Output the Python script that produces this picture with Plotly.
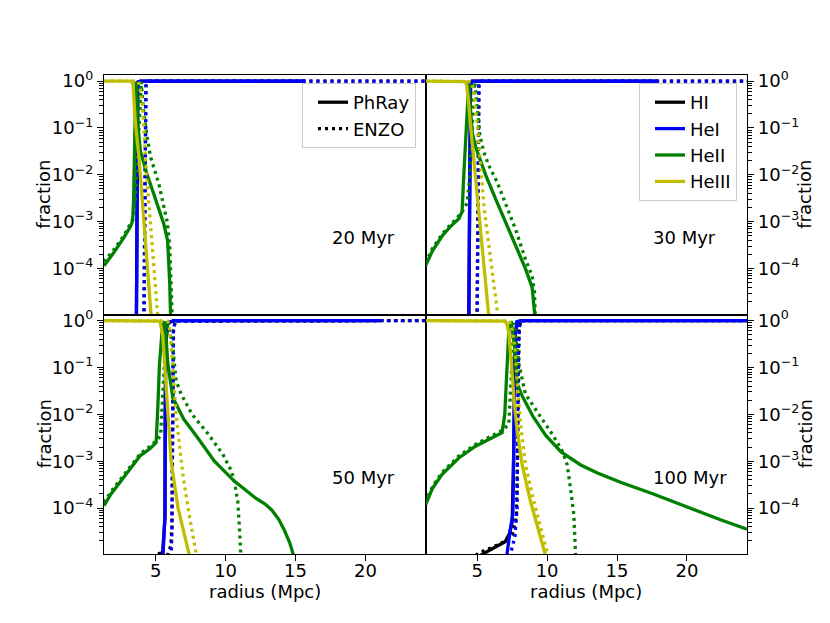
import plotly.graph_objects as go

# ---------------- data: radius (Mpc) and fraction ----------------
# ---- 20 Myr ----
r20_HI_phray = [3.58, 3.62, 3.64, 3.66, 3.72, 3.9, 15.7]
f20_HI_phray = [1e-7, 1e-5, 1e-3, 0.1, 0.95, 1.0, 1.0]
r20_HI_enzo = [4.1, 4.15, 4.18, 4.22, 4.3, 4.45, 24.3]
f20_HI_enzo = [1e-7, 1e-5, 1e-3, 0.1, 0.8, 1.0, 1.0]
r20_HeI_phray = [3.58, 3.62, 3.64, 3.66, 3.72, 3.9, 15.7]
f20_HeI_phray = [1e-7, 1e-5, 1e-3, 0.1, 0.95, 1.0, 1.0]
r20_HeI_enzo = [4.1, 4.15, 4.18, 4.22, 4.3, 4.45, 24.3]
f20_HeI_enzo = [1e-7, 1e-5, 1e-3, 0.1, 0.8, 1.0, 1.0]
r20_HeII_phray = [1.3, 2.0, 2.72, 3.2, 3.35, 3.42, 3.5, 3.56, 3.6, 3.67, 3.74, 3.91, 4.15,
                  4.39, 4.86, 5.2, 5.58, 5.85, 5.94, 6.0, 6.06, 6.1]
f20_HeII_phray = [1.15e-4, 2.19e-4, 4.57e-4, 7.94e-4, 1.05e-3, 3.16e-3, 6.31e-2, 0.631, 0.977,
                  0.316, 0.1, 3.16e-2, 1.78e-2, 1.0e-2, 3.89e-3, 2.0e-3, 8.91e-4, 3.98e-4,
                  1.45e-4, 5.01e-5, 1.07e-5, 3.16e-6]
r20_HeII_enzo = [1.3, 2.0, 2.72, 3.2, 3.35, 3.55, 3.75, 3.9, 3.97, 4.03, 4.15, 4.39, 4.63,
                 5.22, 5.5, 5.82, 6.0, 6.06, 6.12, 6.18, 6.22]
f20_HeII_enzo = [1.41e-4, 2.51e-4, 5.01e-4, 8.71e-4, 1.12e-3, 3.16e-3, 6.31e-2, 0.794, 0.977,
                 0.501, 0.204, 6.46e-2, 2.40e-2, 6.46e-3, 2.82e-3, 1.0e-3, 3.16e-4, 1.45e-4,
                 3.16e-5, 1.0e-5, 3.16e-6]
r20_HeIII_phray = [1.3, 3.3, 3.38, 3.45, 3.55, 3.82, 4.2, 4.68, 4.8]
f20_HeIII_phray = [1.0, 1.0, 0.794, 0.398, 0.126, 2.0e-2, 6.31e-4, 1.07e-5, 3.16e-6]
r20_HeIII_enzo = [1.3, 3.75, 3.85, 4.03, 4.15, 4.27, 4.6, 5.15, 5.3]
f20_HeIII_enzo = [1.0, 0.995, 0.794, 0.331, 0.105, 2.04e-2, 1.12e-3, 1.07e-5, 2.51e-6]

# ---- 30 Myr ----
r30_HI_phray = [4.35, 4.4, 4.43, 4.46, 4.52, 4.65, 17.87]
f30_HI_phray = [1e-7, 1e-5, 1e-3, 0.1, 0.8, 1.0, 1.0]
r30_HI_enzo = [4.99, 5.02, 5.05, 5.12, 5.25, 24.3]
f30_HI_enzo = [1.2e-5, 1e-3, 0.1, 0.8, 1.0, 1.0]
r30_HeI_phray = [4.35, 4.4, 4.43, 4.46, 4.52, 4.65, 17.87]
f30_HeI_phray = [1e-7, 1e-5, 1e-3, 0.1, 0.8, 1.0, 1.0]
r30_HeI_enzo = [4.95, 4.99, 5.02, 5.05, 5.12, 5.25, 24.3]
f30_HeI_enzo = [1e-7, 1e-5, 1e-3, 0.1, 0.8, 1.0, 1.0]
r30_HeII_phray = [1.3, 1.8, 2.5, 3.1, 3.7, 3.92, 4.04, 4.16, 4.35, 4.4, 4.5, 4.64, 4.88, 5.6,
                  6.3, 7.0, 7.7, 8.45, 8.93, 9.07, 9.12, 9.16]
f30_HeII_phray = [1.15e-4, 2.40e-4, 5.01e-4, 7.94e-4, 1.17e-3, 1.66e-3, 1.0e-2, 5.01e-2, 0.501,
                  0.977, 0.282, 8.13e-2, 3.98e-2, 1.0e-2, 3.16e-3, 1.0e-3, 3.16e-4, 1.0e-4,
                  3.98e-5, 1.58e-5, 1.0e-5, 3.16e-6]
r30_HeII_enzo = [1.3, 1.8, 2.5, 3.1, 3.7, 3.9, 4.28, 4.45, 4.6, 4.72, 4.82, 4.92, 5.02, 5.19,
                 5.47, 5.83, 6.43, 7.02, 7.74, 8.45, 8.93, 9.1, 9.17, 9.2]
f30_HeII_enzo = [1.32e-4, 2.69e-4, 5.5e-4, 8.71e-4, 1.32e-3, 1.58e-3, 2.51e-3, 7.94e-3,
                 6.31e-2, 0.398, 0.955, 0.501, 0.2, 6.92e-2, 3.09e-2, 1.58e-2, 6.92e-3,
                 2.57e-3, 6.92e-4, 1.58e-4, 6.92e-5, 3.16e-5, 1.05e-5, 3.16e-6]
r30_HeIII_phray = [1.3, 4.15, 4.25, 4.35, 4.52, 4.86, 5.35, 5.83, 5.95]
f30_HeIII_phray = [1.0, 0.977, 0.794, 0.447, 0.115, 1.0e-2, 3.16e-4, 1.05e-5, 3.98e-6]
r30_HeIII_enzo = [1.3, 4.55, 4.75, 5.0, 5.5, 6.0, 6.5, 6.65]
f30_HeIII_enzo = [1.0, 0.977, 0.631, 0.126, 1.86e-3, 1.26e-4, 1.05e-5, 3.98e-6]

# ---- 50 Myr ----
r50_HI_phray = [5.1, 5.25, 5.5, 5.6, 5.66, 5.68, 5.72, 5.85, 6.3, 21.1]
f50_HI_phray = [5.0e-6, 1.07e-5, 1.12e-5, 2.51e-5, 6.31e-5, 1.0e-2, 0.316, 0.891, 1.0, 1.0]
r50_HI_enzo = [5.5, 5.85, 6.08, 6.16, 6.19, 6.22, 6.27, 6.4, 24.3]
f50_HI_enzo = [5.0e-6, 1.05e-5, 1.58e-5, 3.98e-5, 1.0e-3, 0.1, 0.631, 0.977, 1.0]
r50_HeI_phray = [5.45, 5.51, 5.6, 5.66, 5.68, 5.72, 5.85, 6.3, 21.1]
f50_HeI_phray = [3.98e-6, 1.1e-5, 2.51e-5, 6.31e-5, 1.0e-2, 0.316, 0.891, 1.0, 1.0]
r50_HeI_enzo = [6.05, 6.12, 6.16, 6.19, 6.22, 6.27, 6.4, 24.3]
f50_HeI_enzo = [3.16e-6, 1.1e-5, 3.16e-5, 1.0e-3, 0.1, 0.631, 0.977, 1.0]
r50_HeII_phray = [1.3, 1.8, 2.5, 3.2, 3.9, 4.6, 5.03, 5.15, 5.27, 5.44, 5.6, 5.75, 5.87, 6.22,
                  7.0, 8.0, 9.2, 10.6, 11.4, 12.07, 12.8, 13.3, 13.8, 14.21, 14.6, 14.85, 15.0]
f50_HeII_phray = [1.12e-4, 2.0e-4, 3.72e-4, 7.08e-4, 1.32e-3, 1.86e-3, 2.51e-3, 1.41e-2, 0.12,
                  0.525, 0.977, 0.398, 0.12, 2.29e-2, 7.94e-3, 3.16e-3, 1.0e-3, 3.8e-4,
                  2.4e-4, 1.7e-4, 1.23e-4, 9.1e-5, 5.75e-5, 3.31e-5, 1.78e-5, 1.0e-5, 3.98e-6]
r50_HeII_enzo = [1.3, 1.8, 2.5, 3.2, 3.9, 4.6, 5.1, 5.35, 5.5, 5.7, 5.88, 6.0, 6.22, 6.46,
                 6.82, 7.6, 8.7, 9.8, 10.4, 10.63, 10.87, 10.99, 11.11, 11.15]
f50_HeII_enzo = [1.32e-4, 2.24e-4, 4.17e-4, 7.94e-4, 1.45e-3, 2.09e-3, 2.82e-3, 3.55e-3,
                 3.16e-2, 0.316, 0.955, 0.631, 0.269, 5.25e-2, 2.69e-2, 1.0e-2, 3.98e-3,
                 1.41e-3, 6.31e-4, 3.72e-4, 1.38e-4, 3.72e-5, 1.1e-5, 3.98e-6]
r50_HeIII_phray = [1.3, 5.3, 5.5, 5.65, 5.85, 6.1, 6.6, 7.4, 7.6]
f50_HeIII_phray = [1.0, 0.977, 0.501, 0.1, 1.0e-2, 1.0e-3, 1.0e-4, 1.0e-5, 3.98e-6]
r50_HeIII_enzo = [1.3, 5.85, 6.0, 6.2, 6.45, 6.95, 7.4, 7.95, 8.15]
f50_HeIII_enzo = [1.0, 0.977, 0.631, 0.126, 1.0e-2, 5.01e-4, 7.08e-5, 1.0e-5, 3.98e-6]

# ---- 100 Myr ----
r100_HI_phray = [4.5, 5.0, 6.0, 7.0, 7.3, 7.5, 7.6, 7.65, 7.72, 7.85, 8.2, 24.3]
f100_HI_phray = [7.08e-6, 8.91e-6, 1.32e-5, 1.91e-5, 2.82e-5, 5.01e-5, 1.0e-3, 5.01e-2, 0.501,
                 0.955, 1.0, 1.0]
r100_HI_enzo = [4.5, 5.1, 6.0, 7.0, 7.5, 7.8, 7.88, 7.93, 8.0, 8.1, 8.4, 24.3]
f100_HI_enzo = [7.94e-6, 1.1e-5, 1.41e-5, 1.95e-5, 2.69e-5, 6.31e-5, 1.0e-3, 0.1, 0.631, 0.977,
                1.0, 1.0]
r100_HeI_phray = [7.05, 7.14, 7.38, 7.55, 7.6, 7.65, 7.72, 7.85, 8.2, 24.3]
f100_HeI_phray = [3.16e-6, 1.1e-5, 3.72e-5, 7.24e-5, 1.0e-3, 5.01e-2, 0.501, 0.955, 1.0, 1.0]
r100_HeI_enzo = [7.3, 7.4, 7.7, 7.85, 7.9, 7.95, 8.05, 8.3, 24.3]
f100_HeI_enzo = [3.16e-6, 1.1e-5, 2.51e-5, 1.0e-4, 1.0e-2, 0.316, 0.955, 1.0, 1.0]
r100_HeII_phray = [1.3, 1.8, 2.49, 3.68, 4.88, 6.07, 6.78, 6.97, 7.14, 7.26, 7.43, 7.55, 7.69,
                   7.86, 8.2, 9.0, 9.9, 11.0, 12.4, 13.6, 15.25, 17.6, 20.0, 22.4, 24.3]
f100_HeII_phray = [1.17e-4, 2.63e-4, 5.25e-4, 1.17e-3, 2.09e-3, 3.16e-3, 4.07e-3, 1.0e-2, 0.12,
                   0.617, 0.977, 0.501, 0.251, 4.47e-2, 2.51e-2, 8.91e-3, 3.55e-3, 1.58e-3,
                   8.32e-4, 5.62e-4, 3.55e-4, 2.0e-4, 1.05e-4, 5.62e-5, 3.55e-5]
r100_HeII_enzo = [1.3, 1.8, 2.49, 3.68, 4.88, 6.07, 6.85, 7.26, 7.38, 7.5, 7.6, 7.7, 7.98, 8.45,
                  9.41, 10.36, 11.08, 11.43, 11.67, 11.91, 12.03, 12.08]
f100_HeII_enzo = [1.32e-4, 2.88e-4, 5.75e-4, 1.29e-3, 2.29e-3, 3.47e-3, 4.68e-3, 6.17e-3,
                  2.29e-2, 0.158, 0.891, 0.631, 0.12, 2.69e-2, 1.0e-2, 3.8e-3, 1.66e-3,
                  8.51e-4, 2.69e-4, 7.24e-5, 1.1e-5, 3.98e-6]
r100_HeIII_phray = [1.3, 7.02, 7.15, 7.26, 7.45, 7.62, 7.86, 8.21, 8.81, 9.41, 9.84, 10.0]
f100_HeIII_phray = [1.0, 0.977, 0.794, 0.525, 0.12, 2.29e-2, 4.47e-3, 8.51e-4, 1.38e-4, 3.16e-5,
                    1.1e-5, 3.98e-6]
r100_HeIII_enzo = [1.3, 7.3, 7.5, 7.7, 7.86, 8.1, 8.45, 9.05, 9.55, 10.05, 10.2]
f100_HeIII_enzo = [1.0, 0.977, 0.631, 0.251, 5.01e-2, 6.31e-3, 8.51e-4, 1.38e-4, 3.72e-5,
                   1.0e-5, 3.98e-6]

panel_labels = ["20 Myr", "30 Myr", "50 Myr", "100 Myr"]
species = ["HI", "HeI", "HeII", "HeIII"]
codes = ["PhRay", "ENZO"]
ytick_vals = [1, 1e-1, 1e-2, 1e-3, 1e-4]
ytick_text = ["10<sup>0</sup>", "10<sup>−1</sup>", "10<sup>−2</sup>", "10<sup>−3</sup>",
              "10<sup>−4</sup>"]
xtick_vals = [5, 10, 15, 20]

# ---------------- styling ----------------
colors = {"HI": "#000000", "HeI": "#0000ff", "HeII": "#008000", "HeIII": "#bfbf00"}
dash = {"PhRay": "solid", "ENZO": "3px,4px"}
LW = 3.3
FONT = "DejaVu Sans"
FS = 18

data = {
    0: {"HI": ((r20_HI_phray, f20_HI_phray), (r20_HI_enzo, f20_HI_enzo)),
        "HeI": ((r20_HeI_phray, f20_HeI_phray), (r20_HeI_enzo, f20_HeI_enzo)),
        "HeII": ((r20_HeII_phray, f20_HeII_phray), (r20_HeII_enzo, f20_HeII_enzo)),
        "HeIII": ((r20_HeIII_phray, f20_HeIII_phray), (r20_HeIII_enzo, f20_HeIII_enzo))},
    1: {"HI": ((r30_HI_phray, f30_HI_phray), (r30_HI_enzo, f30_HI_enzo)),
        "HeI": ((r30_HeI_phray, f30_HeI_phray), (r30_HeI_enzo, f30_HeI_enzo)),
        "HeII": ((r30_HeII_phray, f30_HeII_phray), (r30_HeII_enzo, f30_HeII_enzo)),
        "HeIII": ((r30_HeIII_phray, f30_HeIII_phray), (r30_HeIII_enzo, f30_HeIII_enzo))},
    2: {"HI": ((r50_HI_phray, f50_HI_phray), (r50_HI_enzo, f50_HI_enzo)),
        "HeI": ((r50_HeI_phray, f50_HeI_phray), (r50_HeI_enzo, f50_HeI_enzo)),
        "HeII": ((r50_HeII_phray, f50_HeII_phray), (r50_HeII_enzo, f50_HeII_enzo)),
        "HeIII": ((r50_HeIII_phray, f50_HeIII_phray), (r50_HeIII_enzo, f50_HeIII_enzo))},
    3: {"HI": ((r100_HI_phray, f100_HI_phray), (r100_HI_enzo, f100_HI_enzo)),
        "HeI": ((r100_HeI_phray, f100_HeI_phray), (r100_HeI_enzo, f100_HeI_enzo)),
        "HeII": ((r100_HeII_phray, f100_HeII_phray), (r100_HeII_enzo, f100_HeII_enzo)),
        "HeIII": ((r100_HeIII_phray, f100_HeIII_phray), (r100_HeIII_enzo, f100_HeIII_enzo))},
}

axis_ids = [("x", "y"), ("x2", "y2"), ("x3", "y3"), ("x4", "y4")]

fig = go.Figure()
for p in range(4):
    xa, ya = axis_ids[p]
    for sp in species:
        for ci, code in enumerate(codes):
            rr, ff = data[p][sp][ci]
            fig.add_trace(go.Scatter(
                x=rr, y=ff, mode="lines", xaxis=xa, yaxis=ya, showlegend=False,
                line=dict(color=colors[sp], width=LW, dash=dash[code]),
                hoverinfo="skip"))

# legend entries
for code in codes:
    fig.add_trace(go.Scatter(x=[None], y=[None], mode="lines", name=code, xaxis="x", yaxis="y",
                             line=dict(color="black", width=LW, dash=dash[code]),
                             legend="legend"))
for sp in species:
    fig.add_trace(go.Scatter(x=[None], y=[None], mode="lines", name=sp, xaxis="x2", yaxis="y2",
                             line=dict(color=colors[sp], width=LW), legend="legend2"))

minor_vals = [k * 10.0 ** n for n in range(-5, 1) for k in range(2, 10)]

# The page body adds an 8px offset, so the figure is 8px smaller than the window
OFF = 8
W, H = 830 - OFF, 623 - OFF
ML, MT = 104 - OFF, 75 - OFF
MR, MB = W - (747 - OFF), H - (554 - OFF)
pw, ph = W - ML - MR, H - MT - MB


def xaxis(domain, anchor, labels):
    d = dict(domain=domain, anchor=anchor, range=[1.3, 24.3], showgrid=False, zeroline=False,
             showline=True, mirror=True, linecolor="black", linewidth=1.3)
    if labels:
        d.update(tickmode="array", tickvals=xtick_vals, ticks="outside", ticklen=6,
                 tickwidth=1.3, tickcolor="black", tickfont=dict(size=FS, color="black"),
                 ticklabelstandoff=-6)
    else:
        d.update(showticklabels=False, ticks="")
    return d


def yaxis(domain, anchor, side):
    return dict(domain=domain, anchor=anchor, type="log", range=[-4.98, 0.13], side=side,
                showgrid=False, zeroline=False, showline=True, mirror=True, linecolor="black",
                linewidth=1.3, tickmode="array", tickvals=ytick_vals, ticktext=ytick_text,
                ticks="outside", ticklen=6, tickwidth=1.3, tickcolor="black",
                tickfont=dict(size=FS, color="black"),
                minor=dict(tickmode="array", tickvals=minor_vals, ticks="outside", ticklen=3.5,
                           tickwidth=1, tickcolor="black", showgrid=False))


annotations = []
for p, lab in enumerate(panel_labels):
    xa, ya = axis_ids[p]
    annotations.append(dict(text=lab, x=17.45, y=-3.34, xref=xa, yref=ya, xanchor="left",
                            yanchor="middle", showarrow=False,
                            font=dict(size=FS, color="black")))

# axis titles (screen positions: left 'fraction' centred at x=44, right at x=805,
# 'radius (Mpc)' centred at y=590)
for xc in (44, 805):
    for yc in (0.75, 0.25):
        annotations.append(dict(text="fraction", textangle=-90, xref="paper", yref="paper",
                                x=(xc - 104) / pw, y=yc, xanchor="center", yanchor="middle",
                                showarrow=False, font=dict(size=FS, color="black")))
for xc in (0.25, 0.75):
    annotations.append(dict(text="radius (Mpc)", xref="paper", yref="paper", x=xc,
                            y=-(591 - 554) / ph, xanchor="center", yanchor="middle",
                            showarrow=False, font=dict(size=FS, color="black")))

legend_style = dict(bgcolor="rgba(255,255,255,0.8)", bordercolor="#cccccc", borderwidth=1,
                    font=dict(size=FS, color="black"), xanchor="right", yanchor="top",
                    xref="paper", yref="paper")

fig.update_layout(
    width=W, height=H, margin=dict(l=ML, r=MR, t=MT, b=MB),
    paper_bgcolor="white", plot_bgcolor="white",
    font=dict(family=FONT, size=FS, color="black"),
    xaxis=xaxis([0, 0.5], "y", False),
    xaxis2=xaxis([0.5, 1], "y2", False),
    xaxis3=xaxis([0, 0.5], "y3", True),
    xaxis4=xaxis([0.5, 1], "y4", True),
    yaxis=yaxis([0.5, 1], "x", "left"),
    yaxis2=yaxis([0.5, 1], "x2", "right"),
    yaxis3=yaxis([0, 0.5], "x3", "left"),
    yaxis4=yaxis([0, 0.5], "x4", "right"),
    legend=dict(x=(416 - 104) / pw, y=1 - (83 - 75) / ph, indentation=10, **legend_style),
    legend2=dict(x=(737 - 104) / pw, y=1 - (83 - 75) / ph, indentation=10, **legend_style),
    annotations=annotations,
)

fig.write_html("out.html")
